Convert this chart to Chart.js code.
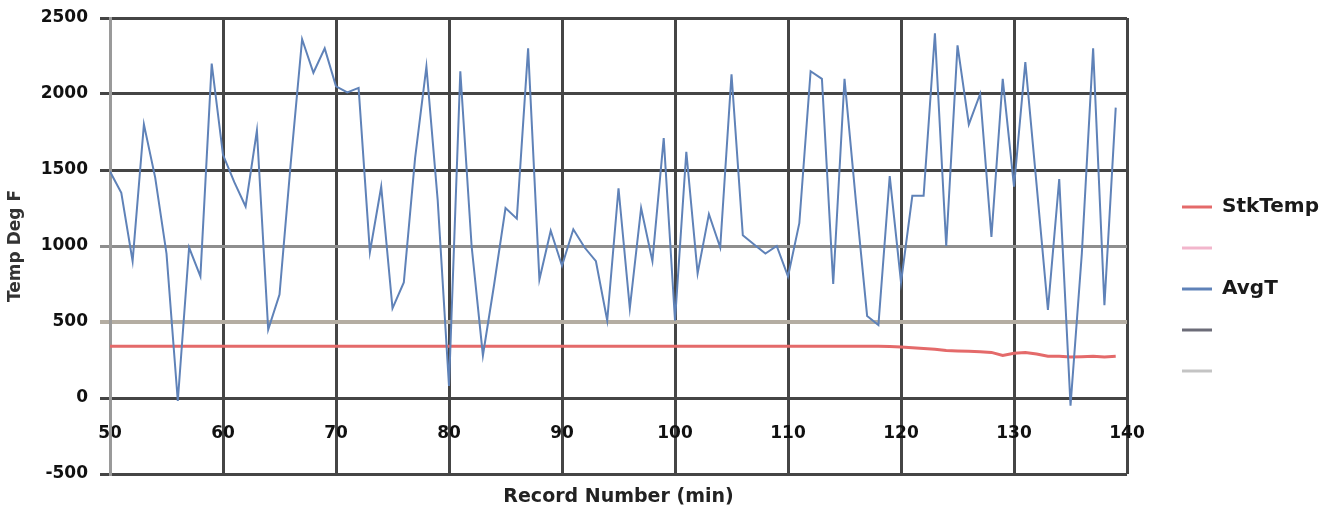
<!DOCTYPE html>
<html>
<head>
<meta charset="utf-8">
<script src="https://cdn.jsdelivr.net/npm/chart.js@4/dist/chart.umd.min.js"></script>
<style>
  html, body { margin: 0; padding: 0; background: #fff; }
  #wrap { width: 1339px; height: 519px; position: relative; }
</style>
</head>
<body>
<div id="wrap"><canvas id="myChart"></canvas></div>
<script>
// record numbers (min)
const records = [
  50, 51, 52, 53, 54, 55, 56, 57, 58, 59,
  60, 61, 62, 63, 64, 65, 66, 67, 68, 69,
  70, 71, 72, 73, 74, 75, 76, 77, 78, 79,
  80, 81, 82, 83, 84, 85, 86, 87, 88, 89,
  90, 91, 92, 93, 94, 95, 96, 97, 98, 99,
  100, 101, 102, 103, 104, 105, 106, 107, 108, 109,
  110, 111, 112, 113, 114, 115, 116, 117, 118, 119,
  120, 121, 122, 123, 124, 125, 126, 127, 128, 129,
  130, 131, 132, 133, 134, 135, 136, 137, 138, 139
]

const avgT = [
  1490, 1350, 900, 1800, 1450, 950, -20, 990, 800, 2200,
  1600, 1420, 1260, 1760, 450, 680, 1550, 2360, 2140, 2300,
  2050, 2010, 2040, 960, 1390, 590, 760, 1580, 2180, 1300,
  80, 2150, 1000, 280, 750, 1250, 1180, 2300, 780, 1100,
  870, 1110, 990, 900, 510, 1380, 590, 1250, 900, 1710,
  510, 1620, 820, 1210, 990, 2130, 1070, 1010, 950, 1000,
  800, 1150, 2150, 2100, 750, 2100, 1300, 540, 480, 1460,
  760, 1330, 1330, 2400, 1000, 2320, 1800, 2000, 1060, 2100,
  1390, 2210, 1400, 580, 1440, -50, 950, 2300, 610, 1910
]

const stkTemp = [
  340, 340, 340, 340, 340, 340, 340, 340, 340, 340,
  340, 340, 340, 340, 340, 340, 340, 340, 340, 340,
  340, 340, 340, 340, 340, 340, 340, 340, 340, 340,
  340, 340, 340, 340, 340, 340, 340, 340, 340, 340,
  340, 340, 340, 340, 340, 340, 340, 340, 340, 340,
  340, 340, 340, 340, 340, 340, 340, 340, 340, 340,
  340, 340, 340, 340, 340, 340, 340, 340, 340, 338,
  335, 330, 325, 320, 312, 310, 308, 305, 300, 280,
  295, 300, 290, 275, 275, 270, 272, 275, 270, 275
]

const yTicks = [-500, 0, 500, 1000, 1500, 2000, 2500]
const xTicks = [50, 60, 70, 80, 90, 100, 110, 120, 130, 140]

const font = 'DejaVu Sans'

const toPoints = vals => vals.map((v, i) => ({x: records[i], y: v}))

function gridColor(ctx) {
    const v = ctx.tick && ctx.tick.value
    if (v === 1000) return '#8e8e8e'
    if (v === 500) return '#b4ada2'
    return '#454545'
}

const config = {
    type: 'line',
    data: {
        datasets: [
            {label: 'StkTemp', data: toPoints(stkTemp), borderColor: '#e46a6a', borderWidth: 3, order: 1},
            {label: '', data: [], borderColor: '#f2b6cc', borderWidth: 2, order: 2},
            {label: 'AvgT', data: toPoints(avgT), borderColor: '#5f82b8', borderWidth: 2, order: 0},
            {label: '', data: [], borderColor: '#6c6c78', borderWidth: 2, order: 2},
            {label: '', data: [], borderColor: '#c4c4c4', borderWidth: 2, order: 2}
        ]
    },
    options: {
        animation: false,
        responsive: true,
        maintainAspectRatio: false,
        elements: {point: {radius: 0}, line: {tension: 0}},
        layout: {padding: {top: 18, right: 10, bottom: 0, left: 0}},
        plugins: {
            tooltip: {enabled: false},
            legend: {
                position: 'right',
                title: {display: true, text: ' ', font: {size: 10}, padding: {top: 15, bottom: 14}},
                labels: {
                    boxWidth: 30,
                    boxHeight: 3,
                    padding: 21,
                    color: '#111',
                    font: {family: font, size: 20, weight: 'bold'},
                    generateLabels: chart => chart.data.datasets.map((ds, i) => ({
                        text: ds.label,
                        fillStyle: ds.borderColor,
                        strokeStyle: ds.borderColor,
                        fontColor: '#1a1a1a',
                        lineWidth: 0,
                        datasetIndex: i
                    }))
                }
            }
        },
        scales: {
            x: {
                type: 'linear',
                min: 50,
                max: 140,
                afterBuildTicks: s => { s.ticks = xTicks.map(v => ({value: v})) },
                grid: {color: '#454545', lineWidth: 3, drawTicks: false},
                border: {display: false},
                ticks: {display: false},
                title: {
                    display: true,
                    text: 'Record Number (min)',
                    color: '#222',
                    font: {family: font, size: 19, weight: 'bold'},
                    padding: {top: 11, bottom: 11}
                },
                afterFit: s => { s.height = 45 }
            },
            xl: {
                axis: 'x',
                type: 'linear',
                position: {y: 0},
                min: 50,
                max: 140,
                afterBuildTicks: s => { s.ticks = xTicks.map(v => ({value: v})) },
                grid: {display: false, drawTicks: false},
                border: {display: false},
                ticks: {
                    color: '#111',
                    padding: 25,
                    font: {family: font, size: 17, weight: 'bold'},
                    callback: v => String(v)
                }
            },
            y: {
                min: -500,
                max: 2500,
                afterBuildTicks: s => { s.ticks = yTicks.map(v => ({value: v})) },
                grid: {color: gridColor, lineWidth: ctx => (ctx.tick && ctx.tick.value === 500 ? 4 : 3), tickLength: 10},
                border: {color: '#9a9a9a', width: 3},
                ticks: {
                    color: '#111',
                    padding: 12,
                    font: {family: font, size: 17, weight: 'bold'},
                    callback: v => String(v)
                },
                title: {
                    display: true,
                    text: 'Temp Deg F',
                    color: '#333',
                    font: {family: font, size: 17, weight: 'bold'},
                    padding: {top: 5, bottom: 0}
                },
                afterFit: s => {
                    s.width = 110
                    s.paddingTop = 0
                    s.paddingBottom = 0
                }
            },
            yr: {
                position: 'right',
                grid: {display: false},
                border: {display: false},
                ticks: {display: false},
                afterFit: s => { s.width = 34 }
            }
        }
    }
}

const myChart = new Chart(document.getElementById('myChart'), config)
</script>
</body>
</html>
